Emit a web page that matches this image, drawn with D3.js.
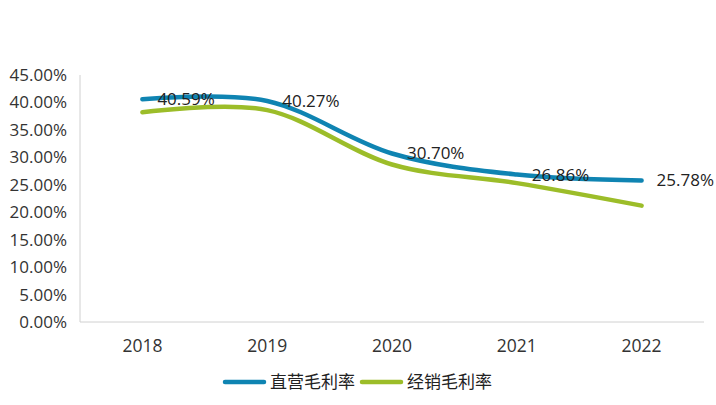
<!DOCTYPE html>
<html>
<head>
<meta charset="utf-8">
<script src="https://cdn.jsdelivr.net/npm/d3@7"></script>
<style>
body{margin:0;background:#fff;}
text{font-family:"Open Sans","Noto Sans CJK SC",sans-serif;}
</style>
</head>
<body>
<svg id="chart" width="716" height="405"></svg>
<script>
let years=["2018","2019","2020","2021","2022"];
let direct=[40.59,40.27,30.70,26.86,25.78];
let dealer=[38.2,38.6,28.7,25.3,21.2];
let yTicks=[0,5,10,15,20,25,30,35,40,45];
let seriesNames=["直营毛利率","经销毛利率"];
let colors=["#0f84b2","#9cbd29"];

let svg=d3.select("#chart");
let plotLeft=80,plotRight=704,plotTop=75,plotBottom=322;

let x=d3.scaleBand().domain(years).range([plotLeft,plotRight]);
let y=d3.scaleLinear().domain([0,45]).range([plotBottom,plotTop]);

// axes
svg.append("line")
.attr("x1",plotLeft).attr("x2",plotLeft)
.attr("y1",plotTop).attr("y2",plotBottom)
.attr("stroke","#d0d0d0");
svg.append("line")
.attr("x1",plotLeft).attr("x2",plotRight)
.attr("y1",plotBottom).attr("y2",plotBottom)
.attr("stroke","#d0d0d0");

svg.append("g")
.selectAll("text")
.data(yTicks)
.enter()
.append("text")
.attr("x",plotLeft-13)
.attr("y",function(d){return y(d);})
.attr("dy","0.35em")
.attr("text-anchor","end")
.attr("font-size",17)
.attr("fill","#333")
.text(function(d){return d.toFixed(2)+"%";});

svg.append("g")
.selectAll("text")
.data(years)
.enter()
.append("text")
.attr("x",function(d){return x(d)+x.bandwidth()/2;})
.attr("y",plotBottom+30)
.attr("text-anchor","middle")
.attr("font-size",17.5)
.attr("fill","#333")
.text(function(d){return d;});

let line=d3.line()
.x(function(d,i){return x(years[i])+x.bandwidth()/2;})
.y(function(d){return y(d);})
.curve(d3.curveCatmullRom.alpha(0));

[dealer,direct].forEach(function(s){
    svg.append("path")
    .attr("d",line(s))
    .attr("fill","none")
    .attr("stroke",s===direct?colors[0]:colors[1])
    .attr("stroke-width",4.5)
    .attr("stroke-linecap","round");
});

// data labels for direct series
svg.append("g")
.selectAll("text")
.data(direct)
.enter()
.append("text")
.attr("x",function(d,i){return x(years[i])+x.bandwidth()/2+15;})
.attr("y",function(d){return y(d);})
.attr("dy","0.35em")
.attr("font-size",17)
.attr("fill","#222")
.text(function(d){return d.toFixed(2)+"%";});

// legend
let legend=[{x:225,name:seriesNames[0],c:colors[0]},{x:362,name:seriesNames[1],c:colors[1]}];
legend.forEach(function(l){
    svg.append("line")
    .attr("x1",l.x).attr("x2",l.x+39)
    .attr("y1",382).attr("y2",382)
    .attr("stroke",l.c)
    .attr("stroke-width",4.5)
    .attr("stroke-linecap","round");
    svg.append("text")
    .attr("x",l.x+45)
    .attr("y",382)
    .attr("dy","0.35em")
    .attr("font-size",17)
    .attr("font-family","Noto Sans CJK SC")
    .attr("fill","#222")
    .text(l.name);
});
</script>
</body>
</html>
